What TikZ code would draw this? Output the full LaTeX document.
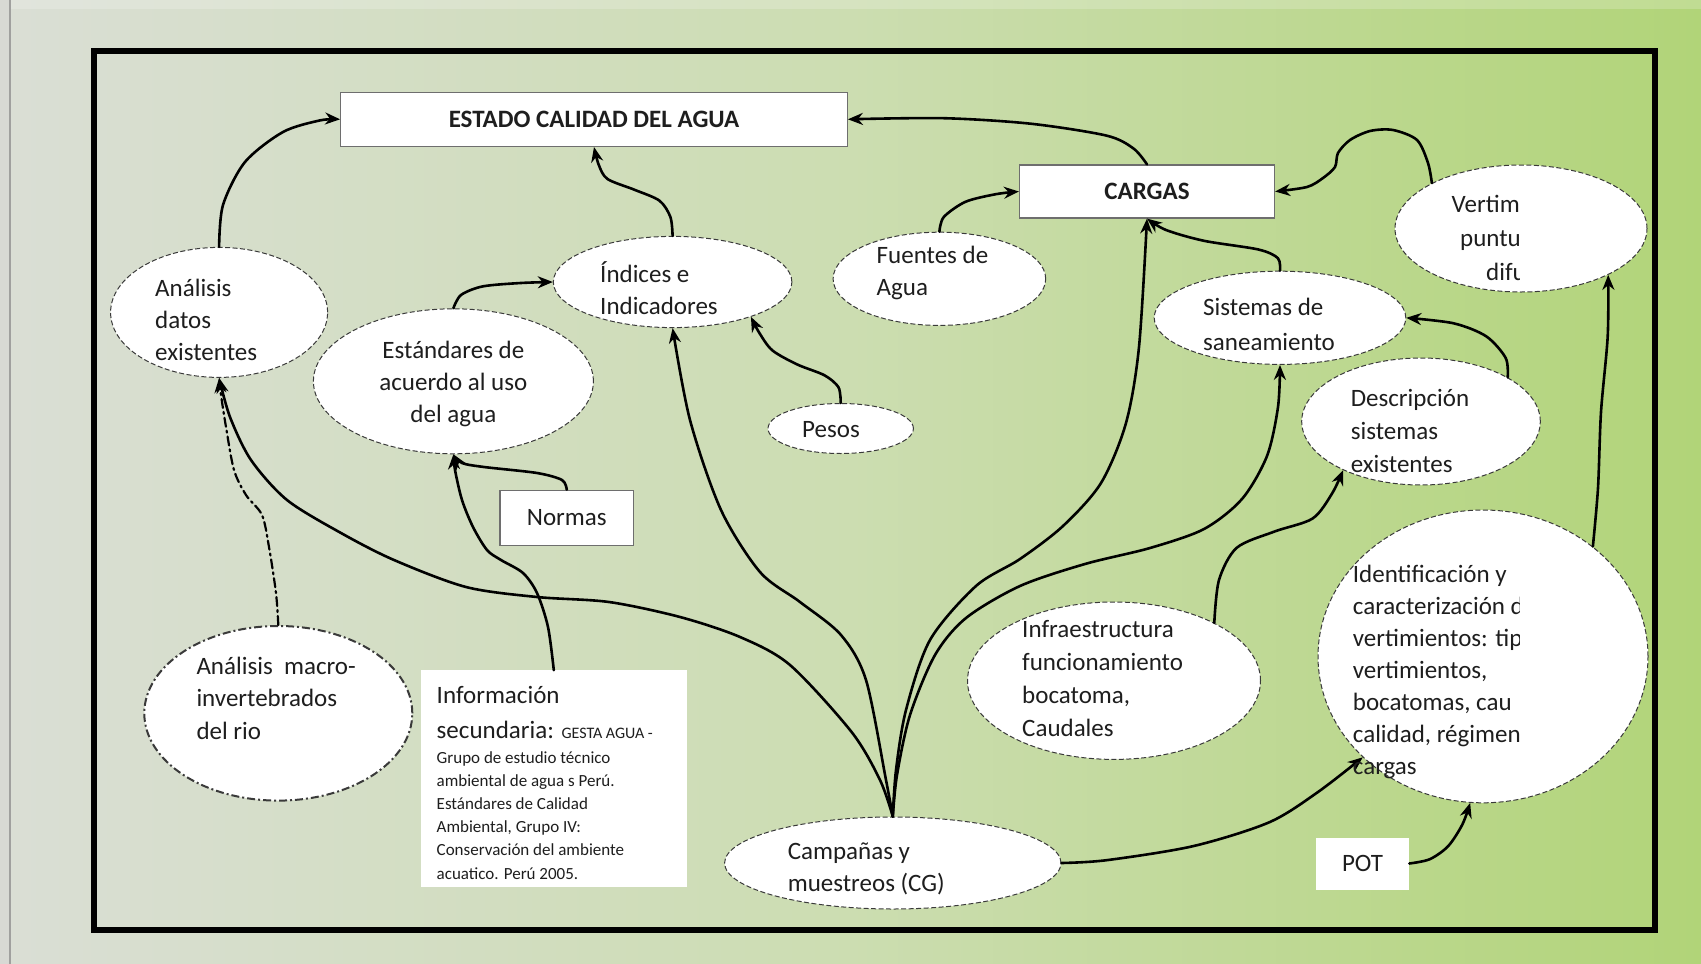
\documentclass[tikz,border=0pt]{standalone}
\usepackage{fontspec}
\setmainfont{Carlito}
\usetikzlibrary{shapes.geometric,arrows.meta}

\definecolor{txt}{HTML}{1E1E1E}
\definecolor{bgL}{RGB}{218,222,213}
\definecolor{bgM}{RGB}{204,221,177}
\definecolor{bgR}{RGB}{177,212,120}
\definecolor{rim}{HTML}{3A3A3A}
\definecolor{boxrim}{HTML}{6E6E6E}
\definecolor{strip}{RGB}{216,217,212}
\definecolor{stripline}{RGB}{160,160,158}

\begin{document}
\begin{tikzpicture}[x=1pt,y=-1pt,
  ell/.style={ellipse, draw=rim, fill=white, line width=1pt,
              dash pattern=on 5pt off 2.5pt, inner sep=0pt},
  elldd/.style={ellipse, draw=rim, fill=white, line width=2pt,
              dash pattern=on 8pt off 3pt on 2pt off 3pt, inner sep=0pt},
  box/.style={rectangle, draw=boxrim, fill=white, line width=1.2pt, inner sep=0pt,
              text=txt, font=\fontsize{25}{30}\selectfont},
  plainbox/.style={rectangle, fill=white, inner sep=0pt,
              text=txt, font=\fontsize{25}{30}\selectfont},
  lbl/.style={inner sep=0pt, align=left, text=txt, font=\fontsize{25}{32}\selectfont},
  conn/.style={line width=2.6pt, draw=black, line cap=round, line join=round,
              -{Stealth[length=15pt,width=12pt]}},
  conndd/.style={conn, line width=2.2pt, dash pattern=on 9pt off 4pt on 2pt off 4pt}
]
\useasboundingbox (0,0) rectangle (1701,964);

% background
\shade[left color=bgL, right color=bgR, middle color=bgM] (0,0) rectangle (1701,964);
\fill[white, opacity=0.2] (0,0) rectangle (1701,9);
\fill[strip] (0,0) rectangle (9,964);
\draw[stripline, line width=2pt] (10,0) -- (10,964);

% outer frame
\draw[line width=6pt] (94.4,51) rectangle (1655,929.7);

% rectangles
\node[box, minimum width=506.6pt, minimum height=54.2pt] (estado) at (594,119.3)
  {\bfseries ESTADO CALIDAD DEL AGUA};
\node[box, minimum width=255pt, minimum height=53pt] (cargas) at (1147,191.5)
  {\bfseries CARGAS};
\node[box, minimum width=133.5pt, minimum height=55.4pt] (norm) at (566.8,518) {Normas};
\node[plainbox, minimum width=93.3pt, minimum height=52pt] (pot) at (1362.5,863.5) {POT};
\node[plainbox, minimum width=265.8pt, minimum height=217pt] (info) at (553.8,778.9) {};

% ellipses
\node[ell, minimum width=217pt, minimum height=130pt] (ana) at (219.1,312.4) {};
\node[ell, minimum width=280pt, minimum height=145pt] (est) at (453.4,381.3) {};
\node[ell, minimum width=238.6pt, minimum height=91.2pt] (ind) at (672.6,282) {};
\node[ell, minimum width=212.6pt, minimum height=93.2pt] (fue) at (939.4,278.8) {};
\node[ell, minimum width=145.4pt, minimum height=50pt] (pes) at (840.7,428.5) {};
\node[ell, minimum width=251.6pt, minimum height=93.2pt] (sis) at (1280,317.8) {};
\node[ell, minimum width=252pt, minimum height=127pt] (vert) at (1521,228.5) {};
\node[ell, minimum width=238.6pt, minimum height=127pt] (desc) at (1421,421.5) {};
\node[ell, minimum width=330pt, minimum height=292.8pt] (ident) at (1483,656.4) {};
\node[ell, minimum width=293pt, minimum height=157.4pt] (infra) at (1114,680.7) {};
\node[elldd, minimum width=268pt, minimum height=174.6pt] (macro) at (278.3,713.3) {};
\node[ell, minimum width=336.4pt, minimum height=92pt] (camp) at (892.8,863) {};

% connectors
\draw[conn] plot[smooth] coordinates {(ana.north) (223,205) (245,162) (283,132) (320,120.4) (estado.west)};
\draw[conn] plot[smooth] coordinates {(ind.north) (670.4,217) (659.5,200.7) (634.6,189.8) (607.5,179) (598.8,165) (estado.south)};
\draw[conn] plot[smooth] coordinates {(cargas.north) (1133.6,148.6) (1106.5,135.6) (1030.6,123.7) (943.8,118.2) (estado.east)};
\draw[conn] plot[smooth] coordinates {(est.north) (461,295) (482.7,286.4) (520.7,283) (ind.west)};
\draw[conn] plot[smooth] coordinates {(pes.north) (838.5,387.3) (824.5,375.3) (797.3,364.5) (772.4,350.4) (759.4,333) (ind.-24)};
\draw[conn] plot[smooth] coordinates {(fue.north) (943.8,217) (965.5,201.8) (995.8,194.2) (cargas.west)};
\draw[conn] plot[smooth] coordinates {(vert.153) (1428,163) (1417,140) (1393,130) (1370,131) (1350,140) (1338,153) (1335,167) (1323,178) (1307,187) (cargas.east)};
\draw[conn] plot[smooth] coordinates {(sis.north) (1277.9,258.2) (1258.4,249.5) (1204,240.8) (1166,230) (cargas.south)};
\draw[conn] plot[smooth] coordinates {(desc.27) (1505.7,358) (1486.2,336.3) (1453.6,323.3) (sis.east)};
\draw[conn] plot[smooth] coordinates {(ident.45) (1598,488) (1601,412) (1607.7,336.3) (vert.-28)};
\draw[conn] plot[smooth] coordinates {(infra.30) (1219,580) (1236.7,547.8) (1274.6,531.5) (1312.6,518.5) (1332,493.6) (desc.212)};
\draw[conn] plot[smooth] coordinates {(camp.east) (1106.5,860.2) (1193.3,846.1) (1269.2,822.3) (1318,792) (ident.220)};
\draw[conn] plot[smooth] coordinates {(pot.east) (1429.8,859.2) (1448.2,846.1) (1462.4,824.4) (ident.265)};
\draw[conn] plot[smooth] coordinates {(info.north) (548,627) (537,593) (523,573) (501,560) (487,550) (473,527) (462,500) (455,470) (est.south)};
\draw[conn] plot[smooth] coordinates {(norm.north) (562,480) (537,473) (484,467) (462,463) (est.south)};
\draw[conndd] plot[smooth] coordinates {(macro.north) (276,593) (269,547) (262,515) (246,495) (234,470) (226,427) (221,395) (ana.south)};

% fan of connectors rising from the sampling campaigns
\draw[conn] plot[smooth] coordinates {(camp.north) (880,780) (851.6,732) (790,665) (740,637) (680,617) (609,602) (537,597) (466,587) (394,560) (341,533) (287,500) (251,460) (230,417) (ana.south)};
\draw[conn] plot[smooth] coordinates {(camp.north) (886,780) (866,680) (841,635) (800,602) (760,572) (721,510) (690,420) (ind.south)};
\draw[conn] plot[smooth] coordinates {(camp.north) (896,770) (906,710) (930,640) (976,586) (1020,559) (1063,526) (1101,483) (1126,423) (1139,347) (cargas.south)};
\draw[conn] plot[smooth] coordinates {(camp.north) (897,775) (910,715) (935,655) (966,618) (1020,586) (1085,564) (1150,548) (1204,529) (1242,499) (1267,456) (1278,407) (sis.south)};

% labels
\node[lbl, anchor=west] (anaT) at (155,320) {Análisis\\datos\\existentes};
\node[lbl, anchor=center, align=center] (estT) at (453.4,384.4) {Estándares de\\acuerdo al uso\\del agua};
\node[lbl, anchor=west] (indT) at (600,288) {Índices e\\Indicadores};
\node[lbl, anchor=west] (fueT) at (876.5,273.4) {Fuentes de\\Agua};
\node[lbl, anchor=center] (pesT) at (831,429.6) {Pesos};
\node[lbl, anchor=west, font=\fontsize{25}{34.5}\selectfont] (sisT) at (1203,324.4) {Sistemas de\\saneamiento};
\node[lbl, anchor=west, font=\fontsize{25}{33}\selectfont] (descT) at (1350.6,431) {Descripción\\sistemas\\existentes};
\node[lbl, anchor=west, font=\fontsize{25}{33}\selectfont] (infT) at (1022,678.5) {Infraestructura\\funcionamiento\\bocatoma,\\Caudales};
\node[lbl, anchor=west, font=\fontsize{25}{32.5}\selectfont] (macT) at (196.3,698.2) {Análisis\ \ macro-\\invertebrados\\del rio};
\node[lbl, anchor=west, font=\fontsize{25}{32.5}\selectfont] (campT) at (787.6,869) {Campañas y\\muestreos (CG)};
\node[lbl, anchor=west, font=\fontsize{25}{35}\selectfont] (infoA) at (436.5,712.5)
  {Información\\secundaria: {\fontsize{16}{20}\selectfont GESTA AGUA -}};
\node[lbl, anchor=west, font=\fontsize{17}{23.2}\selectfont] (infoB) at (436.5,815.2)
  {Grupo de estudio técnico\\ambiental de agua s Perú.\\Estándares de Calidad\\Ambiental, Grupo IV:\\Conservación del ambiente\\acuatico. Perú 2005.};

% texts cut off at the right-hand side
\begin{scope}
  \clip (0,0) rectangle (1519,964);
  \node[lbl, anchor=west, font=\fontsize{25}{34}\selectfont] (verT) at (1451.5,237.6)
    {Vertim\\\hspace*{8.5pt}puntu\\\hspace*{34.5pt}difu};
  \node[lbl, anchor=west] (identT) at (1352.7,672.3)
    {Identificación y\\caracterización d\\vertimientos: tip\\vertimientos,\\bocatomas, cau\\calidad, régimen\\cargas};
\end{scope}
\end{tikzpicture}
\end{document}
